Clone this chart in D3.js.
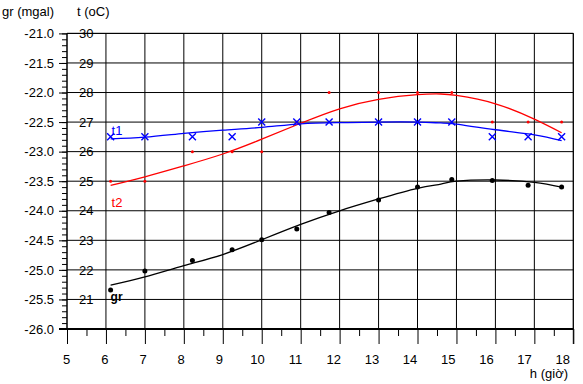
<!DOCTYPE html>
<html>
<head>
<meta charset="utf-8">
<script src="https://cdn.jsdelivr.net/npm/d3@7"></script>
<style>
    body { margin: 0; background: #fff; }
    svg text { font-family: "Liberation Sans", Arial, sans-serif; }
</style>
</head>
<body>
<div id="chart"></div>
<script>
// Gravity (gr) and temperature (t1, t2) readings during the day

// Measurement times (hours) and readings
const hours = [6.12, 7.0, 8.22, 9.24, 10.0, 10.9, 11.73, 13.0, 14.0, 14.88, 15.92, 16.84, 17.7];
const grValues = [-25.34, -25.02, -24.84, -24.66, -24.49, -24.31, -24.03, -23.82, -23.60, -23.47, -23.49, -23.57, -23.60];
const t1Values = [26.5, 26.5, 26.5, 26.5, 27, 27, 27, 27, 27, 27, 26.5, 26.5, 26.5];
const t2Values = [25, 25, 26, 26, 26, 27, 28, 28, 28, 28, 27, 27, 27];

// Trend curves
const trendHours = [6.12, 7, 8, 9, 10, 11, 12, 13, 14, 14.6, 15, 16, 17, 17.7];
const grTrend = [-25.26, -25.12, -24.93, -24.74, -24.49, -24.23, -24.0, -23.80, -23.62, -23.55, -23.50, -23.48, -23.52, -23.60];
const t1Trend = [26.43, 26.49, 26.62, 26.73, 26.82, 26.94, 26.98, 27.0, 27.0, 26.97, 26.93, 26.74, 26.57, 26.37];
const t2Trend = [24.86, 25.15, 25.52, 25.92, 26.42, 26.96, 27.45, 27.77, 27.93, 27.95, 27.9, 27.62, 27.10, 26.64];

// Axis ticks
const hourTicks = d3.range(5, 19);
const halfHourTicks = d3.range(5.5, 18, 1);
const grMajorTicks = d3.range(-26, -20.99, 0.5);
const grMinorTicks = d3.range(-26, -20.99, 0.1);
const tTicks = d3.range(21, 31);

function drawChart() {
    const width = 583, height = 384;
    const left = 67, right = 573.3, top = 33.4, bottom = 329;
    const fontSize = '13px';

    const svg = d3.select('#chart')
        .append('svg')
        .attr('width', width)
        .attr('height', height);

    // Scales
    const x = d3.scaleLinear().domain([5, 18]).range([left, right]);
    const xLabel = d3.scaleLinear().domain([5, 18]).range([66.7, 562.7]);
    const yGr = d3.scaleLinear().domain([-26, -21]).range([bottom, top]);
    const yT = d3.scaleLinear().domain([20, 30]).range([bottom, top]);

    // Grid
    svg.append('g')
        .selectAll('line')
        .data(grMajorTicks.slice(1))
        .enter()
        .append('line')
        .attr('x1', left).attr('x2', right)
        .attr('y1', d => yGr(d)).attr('y2', d => yGr(d))
        .attr('stroke', '#000').attr('stroke-width', 1);

    svg.append('g')
        .selectAll('line')
        .data(hourTicks.slice(1))
        .enter()
        .append('line')
        .attr('x1', d => x(d)).attr('x2', d => x(d))
        .attr('y1', top).attr('y2', bottom)
        .attr('stroke', '#000').attr('stroke-width', 1);

    // Left axis: minor then major ticks
    svg.append('g')
        .attr('transform', `translate(${left},0)`)
        .call(d3.axisLeft(yGr).tickValues(grMinorTicks).tickSize(5).tickFormat(''))
        .call(g => g.select('.domain').remove())
        .call(g => g.selectAll('line').attr('stroke', '#000'));

    svg.append('g')
        .attr('transform', `translate(${left},0)`)
        .call(d3.axisLeft(yGr).tickValues(grMajorTicks).tickSize(8).tickPadding(5))
        .call(g => g.select('.domain').remove())
        .call(g => g.selectAll('line').attr('stroke', '#000'))
        .call(g => g.selectAll('text')
            .attr('fill', '#000')
            .style('font-size', fontSize)
            .text(d => d3.format('.1f')(d).replace('−', '-')));

    // Temperature labels next to the axis
    svg.append('g')
        .attr('transform', `translate(${left},0)`)
        .call(d3.axisRight(yT).tickValues(tTicks).tickSize(0).tickPadding(12))
        .call(g => g.select('.domain').remove())
        .call(g => g.selectAll('text').attr('fill', '#000').style('font-size', fontSize));

    // Bottom axis
    svg.append('g')
        .attr('transform', `translate(0,${bottom})`)
        .call(d3.axisBottom(x).tickValues(halfHourTicks).tickSize(7).tickFormat(''))
        .call(g => g.select('.domain').remove())
        .call(g => g.selectAll('line').attr('stroke', '#000'));

    svg.append('g')
        .attr('transform', `translate(0,${bottom})`)
        .call(d3.axisBottom(x).tickValues(hourTicks).tickSize(15).tickFormat(''))
        .call(g => g.select('.domain').remove())
        .call(g => g.selectAll('line').attr('stroke', '#000'));

    svg.append('g')
        .selectAll('text')
        .data(hourTicks)
        .enter()
        .append('text')
        .attr('x', d => xLabel(d))
        .attr('y', 363.5)
        .attr('text-anchor', 'middle')
        .style('font-size', fontSize)
        .text(d => d);

    // Frame
    svg.append('line')
        .attr('x1', left).attr('x2', right).attr('y1', top).attr('y2', top)
        .attr('stroke', '#000');
    svg.append('line')
        .attr('x1', right).attr('x2', right).attr('y1', top).attr('y2', bottom + 15)
        .attr('stroke', '#000');
    svg.append('line')
        .attr('x1', left).attr('x2', left).attr('y1', top).attr('y2', bottom)
        .attr('stroke', '#000').attr('stroke-width', 1.5);
    svg.append('line')
        .attr('x1', left - 8).attr('x2', right).attr('y1', bottom).attr('y2', bottom)
        .attr('stroke', '#000').attr('stroke-width', 2);

    // Axis titles
    svg.append('text').attr('x', 2).attr('y', 16)
        .style('font-size', fontSize).text('gr (mgal)');
    svg.append('text').attr('x', 77).attr('y', 16)
        .style('font-size', fontSize).text('t (oC)');
    svg.append('text').attr('x', 568).attr('y', 378)
        .attr('text-anchor', 'end')
        .style('font-size', fontSize).text('h (giờ)');

    // Trend curves
    const series = [
        { trend: t2Trend, y: yT, color: '#ff0000' },
        { trend: t1Trend, y: yT, color: '#0000ff' },
        { trend: grTrend, y: yGr, color: '#000000' }
    ];
    series.forEach(s => {
        const line = d3.line()
            .x((d, i) => x(trendHours[i]))
            .y(d => s.y(d))
            .curve(d3.curveNatural);
        svg.append('path')
            .datum(s.trend)
            .attr('d', line)
            .attr('fill', 'none')
            .attr('stroke', s.color)
            .attr('stroke-width', 1.3);
    });

    // t2 points (small red dots)
    svg.append('g')
        .selectAll('circle')
        .data(t2Values)
        .enter()
        .append('circle')
        .attr('cx', (d, i) => x(hours[i]))
        .attr('cy', d => yT(d))
        .attr('r', 1.5)
        .attr('fill', '#ff0000');

    // t1 points (blue crosses)
    svg.append('g')
        .selectAll('path')
        .data(t1Values)
        .enter()
        .append('path')
        .attr('transform', (d, i) => `translate(${x(hours[i])},${yT(d)})`)
        .attr('d', 'M-3.5,-3.5L3.5,3.5M-3.5,3.5L3.5,-3.5')
        .attr('stroke', '#0000ff')
        .attr('stroke-width', 1.4);

    // gr points (black dots)
    svg.append('g')
        .selectAll('circle')
        .data(grValues)
        .enter()
        .append('circle')
        .attr('cx', (d, i) => x(hours[i]))
        .attr('cy', d => yGr(d))
        .attr('r', 2.5)
        .attr('fill', '#000');

    // Series labels
    svg.append('text')
        .attr('x', x(hours[0]) + 1).attr('y', yT(t1Values[0]) - 2)
        .attr('fill', '#0000ff').style('font-size', fontSize).text('t1');
    svg.append('text')
        .attr('x', x(hours[0]) + 1).attr('y', yT(t2Values[0]) + 26)
        .attr('fill', '#ff0000').style('font-size', fontSize).text('t2');
    svg.append('text')
        .attr('x', x(hours[0])).attr('y', yGr(grValues[0]) + 11)
        .attr('fill', '#000').style('font-size', '12px').style('font-weight', 'bold').text('gr');
}

drawChart();
</script>
</body>
</html>
